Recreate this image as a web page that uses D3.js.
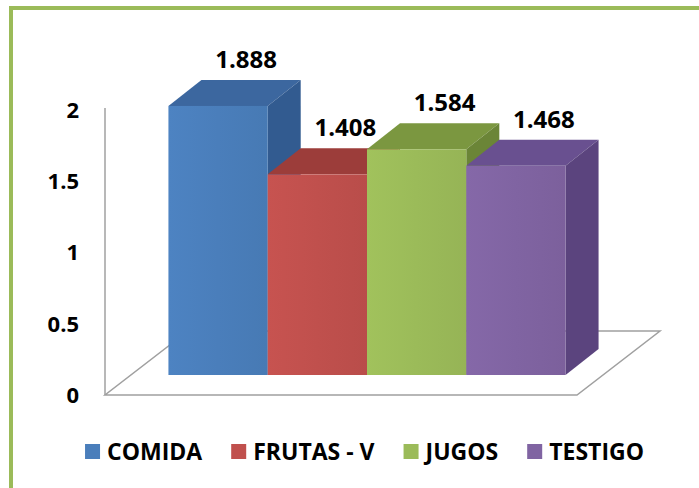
<!DOCTYPE html>
<html>
<head>
<meta charset="utf-8">
<script src="https://cdn.jsdelivr.net/npm/d3@7"></script>
<style>
  body { margin: 0; background: #fff; }
  svg { display: block; font-family: "Open Sans", sans-serif; font-weight: bold; }
</style>
</head>
<body>
<div id="chart"></div>
<script>
// Data
const categories = ['COMIDA', 'FRUTAS - V', 'JUGOS', 'TESTIGO'];
const values = [1.888, 1.408, 1.584, 1.468];
const valueLabels = ['1.888', '1.408', '1.584', '1.468'];
const tickValues = [0, 0.5, 1, 1.5, 2];
const tickLabels = ['0', '0.5', '1', '1.5', '2'];
const frontColors = ['#4a7ebb', '#c0504d', '#9bbb59', '#8064a2'];
const topColors = ['#3c679f', '#9c3d3a', '#7b9740', '#695090'];
const sideColors = ['#325b90', '#8a3431', '#6b8537', '#5b447e'];

const width = 699, height = 488;

const svg = d3.select('#chart').append('svg')
    .attr('width', width)
    .attr('height', height);

// Scales (front plane of the floor)
const x = d3.scaleBand()
    .domain(categories)
    .range([105, 577])
    .paddingInner(0)
    .paddingOuter(0.377);

const y = d3.scaleLinear()
    .domain([0, 2])
    .range([395, 110]);

// 3D offsets
const floorDepth = [83, -64];
const barShift = [26, -20];
const barDepth = [33, -26];

// Frame border
svg.append('rect')
    .attr('x', 11).attr('y', 8)
    .attr('width', 760).attr('height', 560)
    .attr('fill', 'none')
    .attr('stroke', '#9bbb59')
    .attr('stroke-width', 4);

// Floor
const x0 = x.range()[0], x1 = x.range()[1], yb = y(0);
svg.append('path')
    .attr('d', `M${x0},${yb}L${x1},${yb}L${x1 + floorDepth[0]},${yb + floorDepth[1]}L${x0 + floorDepth[0]},${yb + floorDepth[1]}Z`)
    .attr('fill', '#fff')
    .attr('stroke', '#a0a0a0')
    .attr('stroke-width', 1.5);

// Vertical axis line
svg.append('line')
    .attr('x1', x0).attr('x2', x0)
    .attr('y1', y(0)).attr('y2', y(2) - 2)
    .attr('stroke', '#a0a0a0')
    .attr('stroke-width', 1.5);

// Tick labels
svg.selectAll('.tick')
    .data(tickValues)
    .enter().append('text')
    .attr('class', 'tick')
    .attr('x', 79)
    .attr('y', d => y(d))
    .attr('dy', '0.36em')
    .attr('text-anchor', 'end')
    .attr('font-size', 22)
    .attr('fill', '#000')
    .text((d, i) => tickLabels[i]);

// Gradients for the front faces
const defs = svg.append('defs');
frontColors.forEach((c, i) => {
    const g = defs.append('linearGradient')
        .attr('id', 'grad' + i)
        .attr('x1', '0').attr('x2', '1').attr('y1', '0').attr('y2', '0');
    g.append('stop').attr('offset', '0%').attr('stop-color', d3.color(c).brighter(0.1));
    g.append('stop').attr('offset', '50%').attr('stop-color', c);
    g.append('stop').attr('offset', '100%').attr('stop-color', d3.color(c).darker(0.1));
});

// Bars, drawn left to right
const bw = x.bandwidth();
const bars = svg.selectAll('.bar')
    .data(categories.map((c, i) => ({ name: c, value: values[i], i: i })))
    .enter().append('g')
    .attr('class', 'bar');

bars.each(function(d) {
    const g = d3.select(this);
    const l = x(d.name) + barShift[0];
    const r = l + bw;
    const b = y(0) + barShift[1];
    const t = y(d.value) + barShift[1];
    const dx = barDepth[0], dy = barDepth[1];

    // top face
    g.append('path')
        .attr('d', `M${l},${t}L${r},${t}L${r + dx},${t + dy}L${l + dx},${t + dy}Z`)
        .attr('fill', topColors[d.i]);
    // side face
    g.append('path')
        .attr('d', `M${r},${t}L${r + dx},${t + dy}L${r + dx},${b + dy}L${r},${b}Z`)
        .attr('fill', sideColors[d.i]);
    // front face
    g.append('rect')
        .attr('x', l).attr('y', t)
        .attr('width', bw).attr('height', b - t)
        .attr('fill', `url(#grad${d.i})`);

    // value label
    g.append('text')
        .attr('x', l + bw / 2 + 28)
        .attr('y', t + dy - 12)
        .attr('text-anchor', 'middle')
        .attr('font-size', 24)
        .attr('fill', '#000')
        .text(valueLabels[d.i]);
});

// Legend
const legend = svg.append('g').attr('class', 'legend');
let lx = 0;
categories.forEach((c, i) => {
    const item = legend.append('g').attr('transform', `translate(${lx},0)`);
    item.append('rect')
        .attr('x', 0).attr('y', -8)
        .attr('width', 15).attr('height', 15)
        .attr('fill', frontColors[i]);
    const txt = item.append('text')
        .attr('x', 22)
        .attr('y', 0)
        .attr('dy', '0.36em')
        .attr('font-size', 23)
        .attr('fill', '#000')
        .text(c);
    lx += 22 + txt.node().getComputedTextLength() + 29;
});
const legendWidth = lx - 29;
legend.attr('transform', `translate(${364.5 - legendWidth / 2},452)`);
</script>
</body>
</html>
